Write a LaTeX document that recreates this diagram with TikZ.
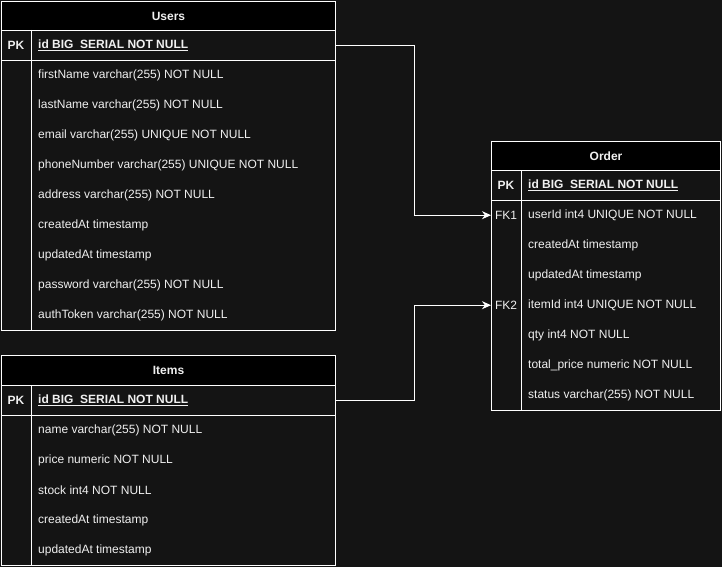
\documentclass[tikz,border=0pt]{standalone}
\usepackage{fontspec}
\setmainfont{Liberation Sans}
\usetikzlibrary{arrows.meta}
\definecolor{bg}{HTML}{141414}
\definecolor{txt}{HTML}{F0F0F0}
\begin{document}
\begin{tikzpicture}[x=1pt,y=-1pt, font=\fontsize{12}{14}\selectfont,
  box/.style={draw=white, line width=1pt, inner sep=0pt, anchor=north west},
  hdr/.style={box, fill=black, text=txt, font=\fontsize{12}{14}\selectfont\bfseries},
  row/.style={inner sep=0pt, anchor=north west, minimum height=30pt},
  lbl/.style={text=txt, anchor=west, inner sep=0pt},
  key/.style={text=txt, anchor=center, inner sep=0pt},
  pk/.style={lbl, font=\fontsize{12}{14}\selectfont\bfseries},
  divider/.style={draw=white, line width=1pt},
  conn/.style={draw=white, line width=1pt, -{Stealth[length=9pt,width=8pt]}}]
\fill[bg] (0,0) rectangle (722,567);
\useasboundingbox (0,0) rectangle (722,567);

% ---------- Users ----------
\node[box, fill=bg, minimum width=334pt, minimum height=300pt] (uB) at (1,30) {};
\node[hdr, minimum width=334pt, minimum height=29pt] (uT) at (1,1) {Users};
\node[box, minimum width=334pt, minimum height=30pt] (uPK) at (1,30) {};
\draw[divider] (31,30) -- (31,330);
\node[key, font=\fontsize{12}{14}\selectfont\bfseries] (uPKk) at (16,45) {PK};
\node[pk] (uPKt) at (38,45) {\underline{id BIG\ \ SERIAL NOT NULL}};
\foreach \t [count=\i] in {{firstName varchar(255) NOT NULL},{lastName varchar(255) NOT NULL},{email varchar(255) UNIQUE NOT NULL},{phoneNumber varchar(255) UNIQUE NOT NULL},{address varchar(255) NOT NULL},{createdAt timestamp},{updatedAt timestamp},{password varchar(255) NOT NULL},{authToken varchar(255) NOT NULL}}
  \node[lbl] (uR\i) at (38,45+30*\i) {\t};

% ---------- Items ----------
\node[box, fill=bg, minimum width=334pt, minimum height=180pt] (iB) at (1,385) {};
\node[hdr, minimum width=334pt, minimum height=30pt] (iT) at (1,355) {Items};
\node[box, minimum width=334pt, minimum height=30pt] (iPK) at (1,385) {};
\draw[divider] (31,385) -- (31,565);
\node[key, font=\fontsize{12}{14}\selectfont\bfseries] (iPKk) at (16,400) {PK};
\node[pk] (iPKt) at (38,400) {\underline{id BIG\ \ SERIAL NOT NULL}};
\foreach \t [count=\i] in {{name varchar(255) NOT NULL},{price numeric NOT NULL},{stock int4 NOT NULL},{createdAt timestamp},{updatedAt timestamp}}
  \node[lbl] (iR\i) at (38,400+30*\i) {\t};

% ---------- Order ----------
\node[box, fill=bg, minimum width=229pt, minimum height=240pt] (oB) at (491,170) {};
\node[hdr, minimum width=229pt, minimum height=29pt] (oT) at (491,141) {Order};
\node[box, minimum width=229pt, minimum height=30pt] (oPK) at (491,170) {};
\draw[divider] (521,170) -- (521,410);
\node[key, font=\fontsize{12}{14}\selectfont\bfseries] (oPKk) at (506,185) {PK};
\node[pk] (oPKt) at (528,185) {\underline{id BIG\ \ SERIAL NOT NULL}};
\foreach \t [count=\i] in {{userId int4 UNIQUE NOT NULL},{createdAt timestamp},{updatedAt timestamp},{itemId int4 UNIQUE NOT NULL},{qty int4 NOT NULL},{total\_price numeric NOT NULL},{status varchar(255) NOT NULL}}
  \node[lbl] (oL\i) at (528,185+30*\i) {\t};
\node[row, minimum width=229pt] (oR1) at (491,200) {};
\node[row, minimum width=229pt] (oR4) at (491,290) {};
\node[key] (oFK1) at (506,215) {FK1};
\node[key] (oFK2) at (506,305) {FK2};

% ---------- connectors ----------
\draw[conn] (uPK.east) -- ++(78,0) |- (oR1.west);
\draw[conn] (iPK.east) -- ++(78,0) |- (oR4.west);
\end{tikzpicture}
\end{document}
